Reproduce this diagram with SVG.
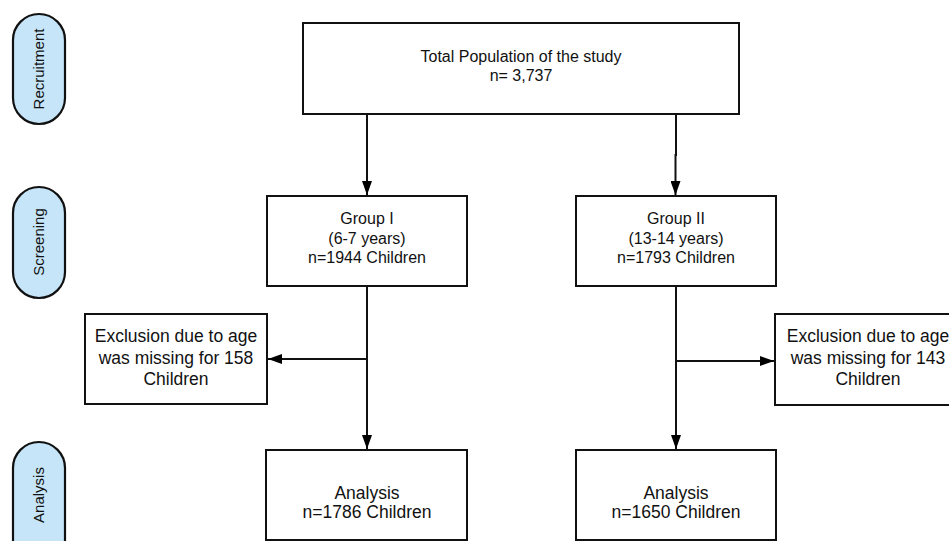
<svg xmlns="http://www.w3.org/2000/svg" width="949" height="541" viewBox="0 0 949 541">
<defs>
<marker id="arr" viewBox="0 0 14 10" refX="14" refY="5" markerWidth="14" markerHeight="10" markerUnits="userSpaceOnUse" orient="auto">
<path d="M0,0 L14,5 L0,10 Z" fill="#000"/>
</marker>
<style>
.box{fill:#fff;stroke:#111;stroke-width:2}
.pill{fill:#c6e5f8;stroke:#111;stroke-width:2.2}
.t{font-family:"Liberation Sans",Arial,sans-serif;font-size:16px;fill:#111;text-anchor:middle}
.t2{font-size:17.5px}
.pt{font-family:"Liberation Sans",Arial,sans-serif;font-size:15px;fill:#111;text-anchor:middle;dominant-baseline:central}
.c{stroke:#111;stroke-width:2;fill:none}
</style>
</defs>
<rect width="949" height="541" fill="#fff"/>
<g id="lane-recruitment"><rect class="pill" x="13" y="14" width="52" height="110" rx="26"/><text class="pt" transform="translate(38,69) rotate(-90)">Recruitment</text></g>
<g id="lane-screening"><rect class="pill" x="13" y="187" width="52" height="111" rx="26"/><text class="pt" transform="translate(38,242) rotate(-90)">Screening</text></g>
<g id="lane-analysis"><rect class="pill" x="13" y="442" width="52" height="130" rx="26"/><text class="pt" transform="translate(38,495) rotate(-90)">Analysis</text></g>

<g id="total"><rect class="box" x="303" y="23" width="436" height="91"/>
<text class="t" x="521" y="62">Total Population of the study</text>
<text class="t" x="521" y="81">n= 3,737</text></g>

<g id="group1"><rect class="box" x="267" y="196" width="200" height="90"/>
<text class="t" x="367" y="224">Group I</text>
<text class="t" x="367" y="244">(6-7 years)</text>
<text class="t" x="367" y="263">n=1944 Children</text></g>

<g id="group2"><rect class="box" x="576" y="196" width="200" height="90"/>
<text class="t" x="676" y="224">Group II</text>
<text class="t" x="676" y="244">(13-14 years)</text>
<text class="t" x="676" y="263">n=1793 Children</text></g>

<g id="excl1"><rect class="box" x="85" y="314" width="182" height="90"/>
<text class="t t2" x="176" y="342">Exclusion due to age</text>
<text class="t t2" x="176" y="364">was missing for 158</text>
<text class="t t2" x="176" y="385">Children</text></g>

<g id="excl2"><rect class="box" x="775" y="314" width="190" height="91"/>
<text class="t t2" x="868" y="342">Exclusion due to age</text>
<text class="t t2" x="868" y="364">was missing for 143</text>
<text class="t t2" x="868" y="385">Children</text></g>

<g id="analysis1"><rect class="box" x="266" y="450" width="201" height="90"/>
<text class="t t2" x="367" y="499">Analysis</text>
<text class="t t2" x="367" y="518">n=1786 Children</text></g>

<g id="analysis2"><rect class="box" x="576" y="450" width="200" height="90"/>
<text class="t t2" x="676" y="499">Analysis</text>
<text class="t t2" x="676" y="518">n=1650 Children</text></g>

<g id="connectors">
<path class="c" d="M367,114 V195" marker-end="url(#arr)"/>
<path class="c" d="M676,114 V155 H675.5 V195" marker-end="url(#arr)"/>
<path class="c" d="M367,286 V449" marker-end="url(#arr)"/>
<path class="c" d="M676,286 V449" marker-end="url(#arr)"/>
<path class="c" d="M367,359 H268" marker-end="url(#arr)"/>
<path class="c" d="M676,361 H774" marker-end="url(#arr)"/>
</g>
</svg>
